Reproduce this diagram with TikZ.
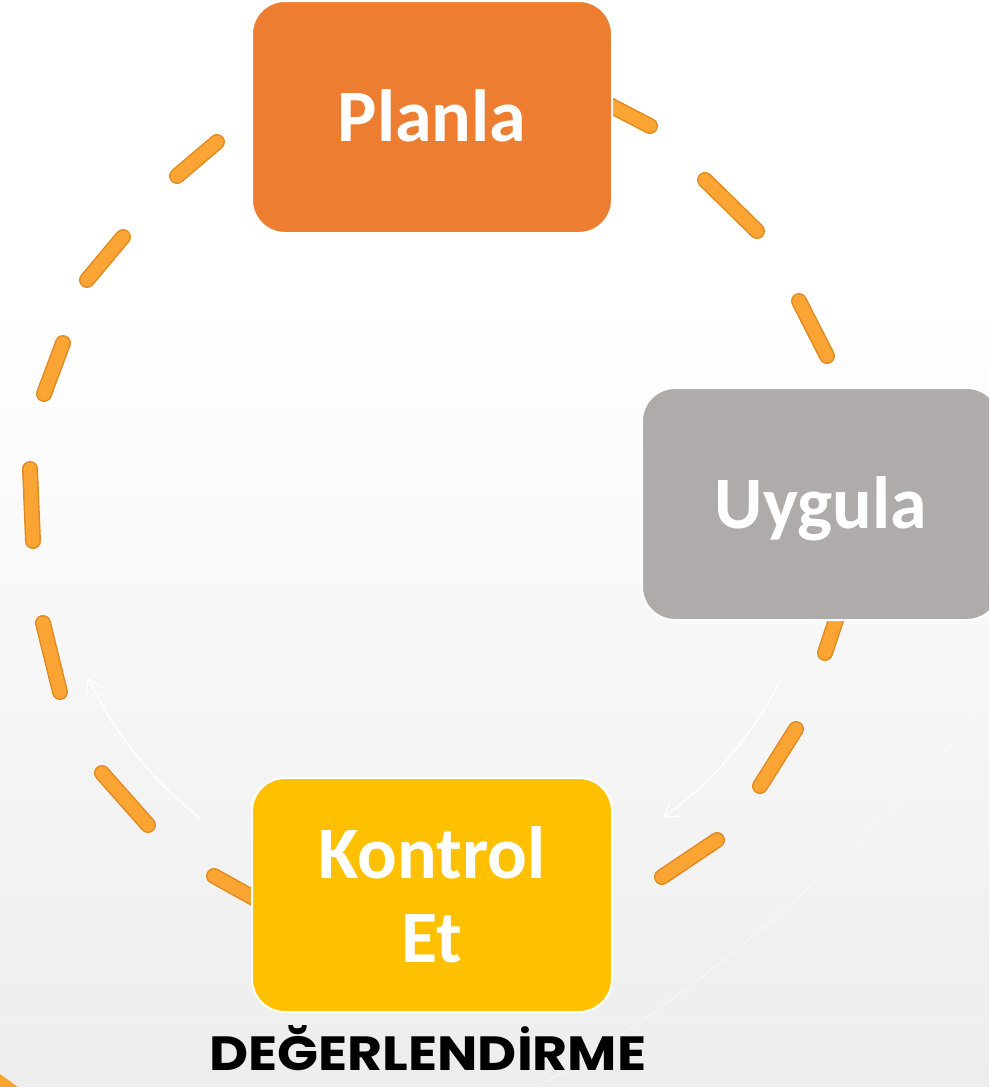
\documentclass[tikz,border=0pt]{standalone}
\usepackage{fontspec}
\setmainfont{Carlito}
\newfontfamily\popfont[FakeStretch=1.12]{Poppins}
\usetikzlibrary{arrows.meta}
\definecolor{planC}{HTML}{ED7D31}
\definecolor{uygC}{HTML}{AFABAB}
\definecolor{kontC}{HTML}{FFC000}
\definecolor{dashC}{HTML}{F9A433}
\definecolor{dashEdge}{HTML}{E28A22}
\definecolor{bgB}{HTML}{EDEDED}
\begin{document}
\begin{tikzpicture}[x=1pt,y=-1pt,
  box/.style={rounded corners=33pt, draw=white, line width=2pt, text=white,
    font=\bfseries\fontsize{74}{81}\selectfont, align=center, inner sep=0pt},
  dashout/.style={draw=dashEdge, line width=16pt, line cap=round},
  dashin/.style={draw=dashC, line width=13pt, line cap=round},
  warrow/.style={draw=white, line width=1.3pt, -{Straight Barb[length=14pt,width=18pt]}}]
\clip (0,0) rectangle (989,1087);
% background
\fill[white] (0,0) rectangle (989,300);
\shade[top color=white, bottom color=bgB] (0,299) rectangle (989,1087);
\draw[white, line width=1.5pt, opacity=0.35] (989,697) .. controls (930,775) and (760,960) .. (537,1087);
\fill[dashC] (0,1074) -- (18,1087) -- (0,1087) -- cycle;
% sketchy dashed cycle
\foreach \ax/\ay/\bx/\by in {
  217/142/177/176, 123/237/87/280, 63/343/44/394, 30/469/33/541,
  43/623/60/692, 102/773/148/825, 214/876/268/906,
  596/98/650/126, 705/180/757/231, 799/301/827/356, 840/608/825/653,
  796/729/760/786, 717/840/662/877}{
  \draw[dashout] (\ax,\ay) -- (\bx,\by);
  \draw[dashin] (\ax,\ay) -- (\bx,\by);
}
% faint white arrows
\coordinate (a1s) at (781,679);
\coordinate (a2s) at (201,819);
\draw[warrow] (a1s) arc[start angle=26.5, end angle=54.3, radius=379];
\draw[warrow] (a2s) arc[start angle=128, end angle=154.7, radius=392];
% boxes
\node[box, fill=planC, minimum width=360pt, minimum height=232pt, text height=48pt, text depth=0pt] (plan) at (432,117) {Planla};
\node[box, fill=uygC, minimum width=358pt, minimum height=232pt, text height=48pt, text depth=0pt] (uyg) at (821,504) {Uygula};
\node[box, fill=kontC, minimum width=360pt, minimum height=234pt] (kont) at (432,895) {\raisebox{3pt}{Kontrol}\\Et};
% label
\node[font=\popfont\bfseries\fontsize{48}{48}\selectfont, text=black, anchor=base, inner sep=0pt, text depth=0pt] (deg) at (428,1070) {DEĞERLENDİRME};
\end{tikzpicture}
\end{document}
